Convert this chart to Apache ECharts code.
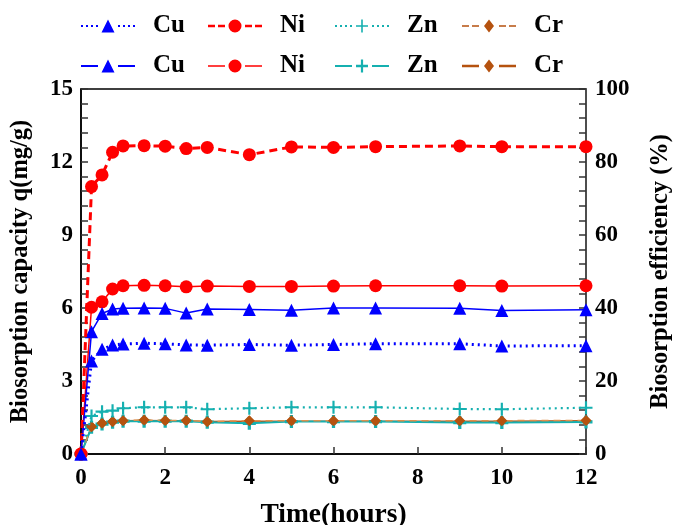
<!DOCTYPE html>
<html><head><meta charset="utf-8">
<script src="https://cdn.jsdelivr.net/npm/echarts@6/dist/echarts.min.js"></script>
<style>html,body{margin:0;padding:0;background:#fff}#c{width:673px;height:525px}</style>
</head><body><div id="c"></div>
<script>
var time = [0, 0.25, 0.5, 0.75, 1, 1.5, 2, 2.5, 3, 4, 5, 6, 7, 9, 10, 12];
// Biosorption capacity q (mg/g) - left axis
var cuQ = [0, 3.82, 4.30, 4.48, 4.52, 4.55, 4.53, 4.48, 4.47, 4.50, 4.47, 4.50, 4.53, 4.53, 4.44, 4.45];
var niQ = [0, 10.99, 11.47, 12.40, 12.66, 12.67, 12.65, 12.55, 12.60, 12.30, 12.62, 12.60, 12.63, 12.66, 12.63, 12.63];
var znQ = [0, 1.56, 1.74, 1.78, 1.88, 1.92, 1.92, 1.92, 1.84, 1.88, 1.92, 1.92, 1.92, 1.85, 1.84, 1.90];
var crQ = [0, 1.12, 1.26, 1.33, 1.37, 1.40, 1.38, 1.38, 1.33, 1.37, 1.37, 1.37, 1.37, 1.37, 1.37, 1.38];
// Biosorption efficiency (%) - right axis
var cuE = [0, 33.5, 38.5, 39.7, 39.9, 40.0, 39.9, 38.6, 39.7, 39.6, 39.4, 40.0, 40.0, 39.9, 39.3, 39.5];
var niE = [0, 40.2, 41.7, 45.2, 46.1, 46.2, 46.1, 45.8, 46.0, 45.9, 45.9, 46.0, 46.1, 46.1, 46.0, 46.1];
var znE = [0, 7.3, 8.2, 8.7, 9.0, 9.0, 9.0, 9.0, 8.7, 8.4, 8.9, 8.9, 8.9, 8.6, 8.6, 8.8];
var crE = [0, 7.5, 8.4, 8.9, 9.1, 9.2, 9.1, 9.1, 8.9, 9.0, 9.0, 9.0, 9.0, 9.0, 9.0, 9.1];
var legendLabels = ['Cu', 'Ni', 'Zn', 'Cr', 'Cu', 'Ni', 'Zn', 'Cr'];

function pairs(v){ return time.map(function(t,i){ return [t, v[i]]; }); }
var FONT = 'Liberation Serif';
var BLUE = '#0000ff', RED = '#ff0000', CYAN = '#15b0b0', CRL = '#e0904c', CRD = '#b8581a', CRM = '#b5520f';

// legend icon builders (54 x 13 box)
function rect(x, y, w, h){ return 'M' + x + ',' + y + ' L' + (x+w) + ',' + y + ' L' + (x+w) + ',' + (y+h) + ' L' + x + ',' + (y+h) + ' Z '; }
function segs(style, th){
  var y = 6.5 - th/2, s = '';
  if (style === 'solid') { s += rect(0, y, 17, th) + rect(37, y, 17, th); }
  else if (style === 'dot') { [0,5,10,15,37,42,47,52].forEach(function(x){ s += rect(x, y, 2, th); }); }
  else { [[0,7],[10,7],[37,7],[47,7]].forEach(function(p){ s += rect(p[0], y, p[1], th); }); }
  return s;
}
var MK = {
  triangle: 'M20.5,13 L27,0 L33.5,13 Z ',
  circle: 'M20.5,6.5 A6.5,6.5 0 1,0 33.5,6.5 A6.5,6.5 0 1,0 20.5,6.5 Z ',
  plusThin: rect(26.2, 0.5, 1.6, 12) + rect(21, 5.7, 12, 1.6),
  plusThick: rect(25.9, 0.5, 2.2, 12) + rect(21, 5.4, 12, 2.2),
  diamond: 'M27,1 L32,6.5 L27,12 L22,6.5 Z '
};
function icon(style, th, mk){ return 'path://' + segs(style, th) + MK[mk]; }

var seriesDefs = [
  {id:'CuQ', data:cuQ, axis:0, color:BLUE, sym:'triangle', size:13, lw:3, lt:[2,4], mc:BLUE, icon:icon('dot',2.2,'triangle')},
  {id:'NiQ', data:niQ, axis:0, color:RED, sym:'circle', size:13, lw:3, lt:[8,5], mc:RED, icon:icon('dash',2.6,'circle')},
  {id:'ZnQ', data:znQ, axis:0, color:CYAN, sym:'path://M-1,-6 L1,-6 L1,-1 L6,-1 L6,1 L1,1 L1,6 L-1,6 L-1,1 L-6,1 L-6,-1 L-1,-1 Z', size:13, lw:2.2, lt:[2,4], mc:CYAN, icon:icon('dot',1.8,'plusThin')},
  {id:'CrQ', data:crQ, axis:0, color:CRL, sym:'diamond', size:11, lw:1.5, lt:[7,5], mc:CRM, icon:icon('dash',1.3,'diamond')},
  {id:'CuE', data:cuE, axis:1, color:BLUE, sym:'triangle', size:13, lw:1.5, lt:'solid', mc:BLUE, icon:icon('solid',1.8,'triangle')},
  {id:'NiE', data:niE, axis:1, color:RED, sym:'circle', size:13, lw:1.5, lt:'solid', mc:RED, icon:icon('solid',1.6,'circle')},
  {id:'ZnE', data:znE, axis:1, color:CYAN, sym:'path://M-1.5,-6 L1.5,-6 L1.5,-1.5 L6,-1.5 L6,1.5 L1.5,1.5 L1.5,6 L-1.5,6 L-1.5,1.5 L-6,1.5 L-6,-1.5 L-1.5,-1.5 Z', size:13, lw:2, lt:'solid', mc:CYAN, icon:icon('solid',2,'plusThick')},
  {id:'CrE', data:crE, axis:1, color:CRD, sym:'diamond', size:11, lw:1.5, lt:'solid', mc:CRM, icon:icon('solid',2,'diamond')}
];

var series = seriesDefs.map(function(d, i){
  return {
    name: d.id, type:'line', yAxisIndex: d.axis, data: pairs(d.data),
    symbol: d.sym, symbolSize: d.size, showAllSymbol:true,
    lineStyle:{color:d.color, width:d.lw, type:d.lt},
    itemStyle:{color:d.mc, borderWidth:0},
    z: 10 - i, animation:false
  };
});

var legendX = [81, 208, 335, 462];
var legendY = [13.5, 53.5];
var legends = seriesDefs.map(function(d, i){
  return {
    data:[{name:d.id, icon:d.icon}], left: legendX[i % 4], top: legendY[Math.floor(i/4)], padding:0,
    itemWidth:54, itemHeight:13, itemGap:0, symbolKeepAspect:false,
    itemStyle:{borderWidth:0},
    formatter: function(){ return legendLabels[i]; },
    textStyle:{fontFamily:FONT, fontWeight:'bold', fontSize:25, color:'#000', padding:[0,0,0,13]}
  };
});

var chart = echarts.init(document.getElementById('c'));
chart.setOption({
  animation:false,
  backgroundColor:'#fff',
  legend: legends,
  grid:{left:81, right:87, top:89, bottom:71, show:true, borderColor:'#000', borderWidth:1.5, containLabel:false, outerBoundsMode:'none'},
  xAxis:{
    type:'value', min:0, max:12, interval:2,
    name:'Time(hours)', nameLocation:'middle', nameGap:47,
    nameTextStyle:{fontFamily:FONT, fontWeight:'bold', fontSize:27.5, color:'#000'},
    axisLine:{lineStyle:{color:'#000', width:1.5}},
    axisTick:{inside:true, length:7, lineStyle:{color:'#333', width:1.5}},
    splitLine:{show:false},
    axisLabel:{fontFamily:FONT, fontWeight:'bold', fontSize:23, color:'#000', margin:13}
  },
  yAxis:[{
    type:'value', min:0, max:15, interval:3, position:'left',
    name:'Biosorption capacity q(mg/g)', nameLocation:'middle', nameGap:48, nameRotate:90,
    nameTextStyle:{fontFamily:FONT, fontWeight:'bold', fontSize:24.5, color:'#000'},
    axisLine:{show:true, lineStyle:{color:'#000', width:1.5}},
    axisTick:{inside:true, length:7, lineStyle:{color:'#333', width:1.5}},
    minorTick:{show:true, splitNumber:5, length:7, lineStyle:{color:'#333', width:1.5}},
    splitLine:{show:false},
    axisLabel:{fontFamily:FONT, fontWeight:'bold', fontSize:23, color:'#000', margin:8}
  },{
    type:'value', min:0, max:100, interval:20, position:'right',
    name:'Biosorption efficiency (%)', nameLocation:'middle', nameGap:62, nameRotate:90,
    nameTextStyle:{fontFamily:FONT, fontWeight:'bold', fontSize:24.5, color:'#000'},
    axisLine:{show:true, lineStyle:{color:'#555', width:1.5}},
    axisTick:{inside:true, length:7, lineStyle:{color:'#333', width:1.5}},
    minorTick:{show:true, splitNumber:5, length:7, lineStyle:{color:'#333', width:1.5}},
    splitLine:{show:false},
    axisLabel:{fontFamily:FONT, fontWeight:'bold', fontSize:23, color:'#000', margin:9}
  }],
  series: series
});
</script></body></html>
